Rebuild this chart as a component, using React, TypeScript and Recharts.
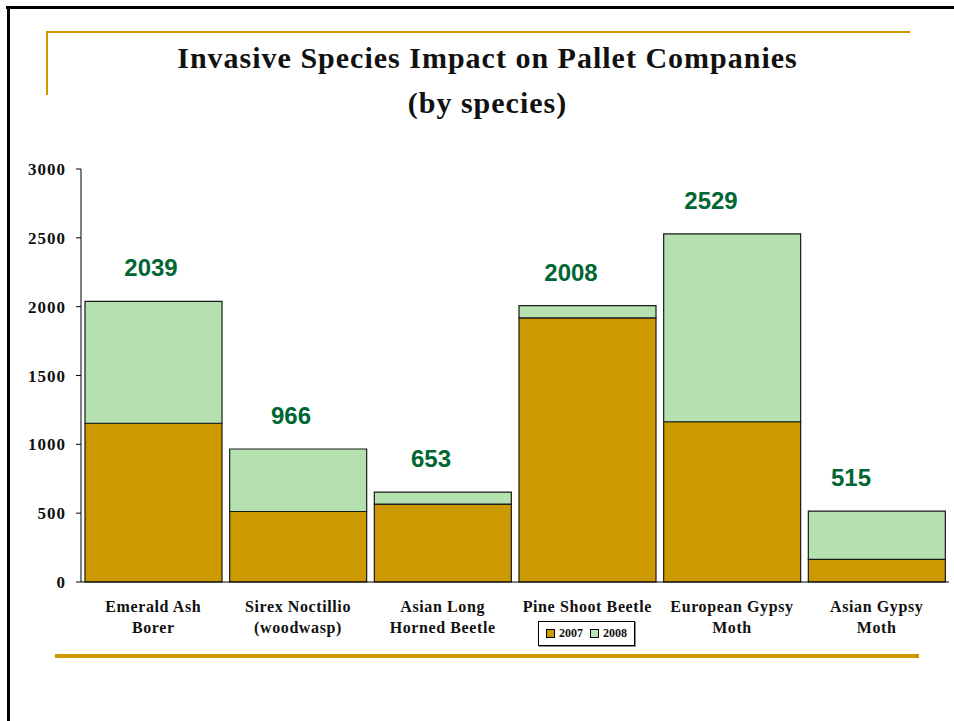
import React from 'react';
import { ComposedChart, Bar, Line, XAxis, YAxis, LabelList, Legend } from 'recharts';

const categories = [
  'Emerald Ash\nBorer',
  'Sirex Noctillio\n(woodwasp)',
  'Asian Long\nHorned Beetle',
  'Pine Shoot Beetle',
  'European Gypsy\nMoth',
  'Asian Gypsy\nMoth',
];
const values2007 = [1153, 512, 566, 1918, 1164, 165];
const values2008 = [886, 454, 87, 90, 1365, 350];
const yTicks = [0, 500, 1000, 1500, 2000, 2500, 3000];
const boundaryTicks = [0, 1, 2, 3, 4, 5, 6];

const data = categories.map((name, i) => ({
  name,
  y2007: values2007[i],
  y2008: values2008[i],
  total: values2007[i] + values2008[i],
}));

const GOLD = '#CC9900';
const GREEN = '#B5E1B0';
const LABEL_GREEN = '#006633';
const SERIF = '"Liberation Serif", "Times New Roman", serif';
const SANS = '"Liberation Sans", Arial, sans-serif';

const CategoryTick = (props: any) => {
  const { x, y, payload } = props;
  const lines = String(payload.value).split('\n');
  return (
    <text
      x={x}
      y={y}
      textAnchor="middle"
      fontFamily={SERIF}
      fontWeight="bold"
      fontSize={16}
      letterSpacing={0.6}
      fill="#111"
    >
      {lines.map((l, i) => (
        <tspan key={i} x={x} dy={i === 0 ? 22 : 21}>
          {l}
        </tspan>
      ))}
    </text>
  );
};

const LegendContent = (props: any) => {
  const payload = (props.payload || []).filter((p: any) => p.type !== 'none' && p.dataKey !== 'total');
  return (
    <div
      style={{
        display: 'flex',
        alignItems: 'center',
        justifyContent: 'center',
        width: '100%',
        height: '100%',
        border: '1px solid #000',
        boxShadow: '1px 1px 0 #888',
        boxSizing: 'border-box',
        background: '#fff',
        fontFamily: SERIF,
        fontWeight: 'bold',
        fontSize: 12,
        color: '#111',
      }}
    >
      {payload.map((p: any, i: number) => (
        <span key={i} style={{ display: 'flex', alignItems: 'center', marginLeft: i ? 7 : 0 }}>
          <span
            style={{
              display: 'inline-block',
              width: 7,
              height: 7,
              background: p.color,
              border: '1px solid #000',
              marginRight: 4,
            }}
          />
          {p.value}
        </span>
      ))}
    </div>
  );
};

export default function App() {
  return (
    <div style={{ position: 'absolute', left: 0, top: 0, width: 954, height: 721, background: '#fff', overflow: 'hidden' }}>
      {/* frame */}
      <div style={{ position: 'absolute', left: 6, top: 6, width: 948, height: 3, background: '#000' }} />
      <div style={{ position: 'absolute', left: 7, top: 6, width: 3, height: 715, background: '#000' }} />
      {/* gold decorations */}
      <div style={{ position: 'absolute', left: 46, top: 31, width: 864, height: 2, background: GOLD }} />
      <div style={{ position: 'absolute', left: 46, top: 31, width: 2, height: 64, background: GOLD }} />
      <div style={{ position: 'absolute', left: 55, top: 654, width: 864, height: 4, background: GOLD }} />
      {/* title */}
      <div
        style={{
          position: 'absolute',
          left: 0,
          width: 975,
          top: 35,
          textAlign: 'center',
          fontFamily: SERIF,
          fontWeight: 'bold',
          fontSize: 30,
          letterSpacing: 1,
          lineHeight: '45px',
          color: '#111',
        }}
      >
        Invasive Species Impact on Pallet Companies
        <br />
        (by species)
      </div>
      <div style={{ position: 'absolute', left: 0, top: 0 }}>
        <ComposedChart
          width={954}
          height={721}
          data={data}
          margin={{ top: 169, right: 5, bottom: 79, left: 21 }}
          barCategoryGap={4}
        >
          <XAxis
            xAxisId="bounds"
            type="number"
            domain={[0, 6]}
            ticks={boundaryTicks}
            tick={false}
            tickSize={5}
            tickLine={{ stroke: '#000' }}
            axisLine={false}
            height={0}
            allowDataOverflow
          />
          <XAxis
            xAxisId="cat"
            dataKey="name"
            tickLine={false}
            axisLine={{ stroke: '#000' }}
            tick={<CategoryTick />}
            interval={0}
            height={60}
          />
          <XAxis xAxisId="lbl" dataKey="name" hide padding={{ left: 0, right: 28 }} />
          <YAxis
            domain={[0, 3000]}
            ticks={yTicks}
            width={60}
            tickSize={5}
            tickMargin={10}
            axisLine={{ stroke: '#000' }}
            tickLine={{ stroke: '#000' }}
            tick={{ fontFamily: SERIF, fontWeight: 'bold', fontSize: 17, fill: '#111', letterSpacing: 1 }}
          />
          <Legend
            layout="horizontal"
            verticalAlign="middle"
            align="center"
            content={<LegendContent />}
            wrapperStyle={{ position: 'absolute', left: 538, top: 621, width: 97, height: 25 }}
          />
          <Bar
            xAxisId="cat"
            dataKey="y2007"
            name="2007"
            stackId="a"
            fill={GOLD}
            stroke="#1a1a1a"
            strokeWidth={1.2}
            isAnimationActive={false}
          />
          <Bar
            xAxisId="cat"
            dataKey="y2008"
            name="2008"
            stackId="a"
            fill={GREEN}
            stroke="#1a1a1a"
            strokeWidth={1.2}
            isAnimationActive={false}
          />
          <Line
            xAxisId="lbl"
            dataKey="total"
            stroke="none"
            dot={false}
            activeDot={false}
            legendType="none"
            isAnimationActive={false}
          >
            <LabelList
              dataKey="total"
              position="top"
              offset={25}
              fill={LABEL_GREEN}
              fontFamily={SANS}
              fontWeight="bold"
              fontSize={24}
            />
          </Line>
        </ComposedChart>
      </div>
    </div>
  );
}
